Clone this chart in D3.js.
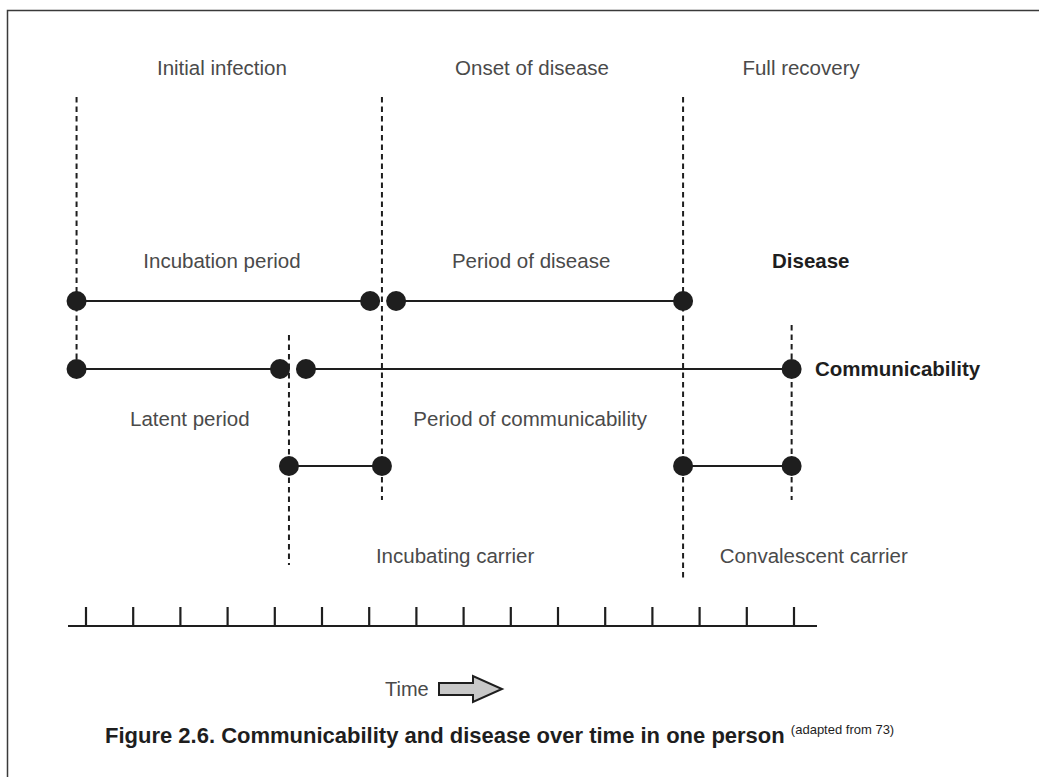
<!DOCTYPE html>
<html>
<head>
<meta charset="utf-8">
<script src="https://cdn.jsdelivr.net/npm/d3@7"></script>
<style>
  body { margin: 0; background: #fff; }
  svg text { font-family: "Liberation Sans", Arial, sans-serif; }
</style>
</head>
<body>
<div id="chart"></div>
<script>
// time ticks along the bottom axis
var timeTicks = d3.range(0, 16);

// key moments, in tick units
var eventNames = ["Initial infection", "Latent end", "Onset of disease", "Full recovery", "End of communicability"];
var eventTimes = [-0.2, 4.3, 6.27, 12.65, 14.95];

// phases drawn as dot-to-dot segments
var rowNames = ["Disease", "Communicability", "Carrier"];
var segRow   = ["Disease", "Disease", "Communicability", "Communicability", "Carrier", "Carrier"];
var segFrom  = [-0.2, 6.57, -0.2, 4.66, 4.3, 12.65];
var segTo    = [6.02, 12.65, 4.11, 14.95, 6.27, 14.95];

// labels
var topLabels = ["Initial infection", "Onset of disease", "Full recovery"];
var topLabelTimes = [2.88, 9.45, 15.15];
var phaseLabels = ["Incubation period", "Period of disease", "Latent period", "Period of communicability", "Incubating carrier", "Convalescent carrier"];
var phaseLabelTimes = [2.88, 9.43, 2.2, 9.41, 7.82, 15.42];
var phaseLabelRow = ["above0", "above0", "below1", "below1", "bottom", "bottom"];

var svgW = 1039, svgH = 777;
var svg = d3.select("#chart").append("svg").attr("width", svgW).attr("height", svgH);

// frame (left and top only, the rest is cut off)
svg.append("path")
    .attr("d", "M7.5," + svgH + "V10.5H" + svgW)
    .attr("fill", "none").attr("stroke", "#3a3a3a").attr("stroke-width", 1.5);

var x = d3.scaleLinear().domain([0, 15]).range([86, 794]);

var rowY = { "Disease": 301, "Communicability": 369, "Carrier": 466 };
var labelY = { top: 75, above0: 268, below1: 426, bottom: 563 };
var fs = 20.5;

// dashed vertical event lines
var vlines = [
    { t: eventTimes[0], y0: 97, y1: 370 },
    { t: eventTimes[2], y0: 97, y1: 500 },
    { t: eventTimes[1], y0: 335, y1: 565 },
    { t: eventTimes[3], y0: 97, y1: 578 },
    { t: eventTimes[4], y0: 325, y1: 500 }
];
svg.append("g").selectAll("line").data(vlines).enter().append("line")
    .attr("x1", function(d){ return x(d.t); })
    .attr("x2", function(d){ return x(d.t); })
    .attr("y1", function(d){ return d.y0; })
    .attr("y2", function(d){ return d.y1; })
    .attr("stroke", "#1e1e1e").attr("stroke-width", 2)
    .attr("stroke-dasharray", "5.5,4");

// segments
var segs = segRow.map(function(r, i){ return { row: r, from: segFrom[i], to: segTo[i] }; });
var gSeg = svg.append("g");
gSeg.selectAll("line").data(segs).enter().append("line")
    .attr("x1", function(d){ return x(d.from); })
    .attr("x2", function(d){ return x(d.to); })
    .attr("y1", function(d){ return rowY[d.row]; })
    .attr("y2", function(d){ return rowY[d.row]; })
    .attr("stroke", "#1e1e1e").attr("stroke-width", 2.2);

var dots = [];
segs.forEach(function(s){
    dots.push({ row: s.row, t: s.from });
    dots.push({ row: s.row, t: s.to });
});
gSeg.selectAll("circle").data(dots).enter().append("circle")
    .attr("cx", function(d){ return x(d.t); })
    .attr("cy", function(d){ return rowY[d.row]; })
    .attr("r", 10)
    .attr("fill", "#1e1e1e");

// texts
svg.append("g").selectAll("text").data(topLabels).enter().append("text")
    .attr("x", function(d, i){ return x(topLabelTimes[i]); })
    .attr("y", labelY.top)
    .attr("text-anchor", "middle")
    .attr("font-size", fs).attr("fill", "#4a4a4a")
    .text(function(d){ return d; });

svg.append("g").selectAll("text").data(phaseLabels).enter().append("text")
    .attr("x", function(d, i){ return x(phaseLabelTimes[i]); })
    .attr("y", function(d, i){ return labelY[phaseLabelRow[i]]; })
    .attr("text-anchor", "middle")
    .attr("font-size", fs).attr("fill", "#4a4a4a")
    .text(function(d){ return d; });

// row names in bold
svg.append("text").attr("x", 772).attr("y", labelY.above0)
    .attr("font-size", fs).attr("font-weight", "bold").attr("fill", "#1e1e1e")
    .text(rowNames[0]);
svg.append("text").attr("x", 815).attr("y", rowY.Communicability + 7)
    .attr("font-size", fs).attr("font-weight", "bold").attr("fill", "#1e1e1e")
    .text(rowNames[1]);

// time axis
var axisY = 626;
var gAxis = svg.append("g").attr("transform", "translate(0," + axisY + ")");
gAxis.append("line").attr("x1", 68).attr("x2", 817)
    .attr("stroke", "#1e1e1e").attr("stroke-width", 2);
gAxis.selectAll("line.tick").data(timeTicks).enter().append("line")
    .attr("class", "tick")
    .attr("x1", function(d){ return x(d); })
    .attr("x2", function(d){ return x(d); })
    .attr("y1", -19).attr("y2", 0)
    .attr("stroke", "#1e1e1e").attr("stroke-width", 2.2);

// "Time" with arrow
var timeY = 689;
svg.append("text").attr("x", 385).attr("y", timeY + 7)
    .attr("font-size", 20).attr("fill", "#4a4a4a").text("Time");
svg.append("path")
    .attr("d", "M439," + (timeY - 6) + "H473V" + (timeY - 13) + "L502," + timeY +
        "L473," + (timeY + 13) + "V" + (timeY + 6) + "H439Z")
    .attr("fill", "#c8c8c8").attr("stroke", "#1e1e1e").attr("stroke-width", 2);

// caption
var cap = svg.append("text").attr("x", 105).attr("y", 743)
    .attr("font-size", 22).attr("font-weight", "bold").attr("fill", "#1e1e1e");
cap.append("tspan").text("Figure 2.6. Communicability and disease over time in one person ");
cap.append("tspan").attr("font-size", 13).attr("font-weight", "normal")
    .attr("dy", -9).text("(adapted from 73)");
</script>
</body>
</html>
